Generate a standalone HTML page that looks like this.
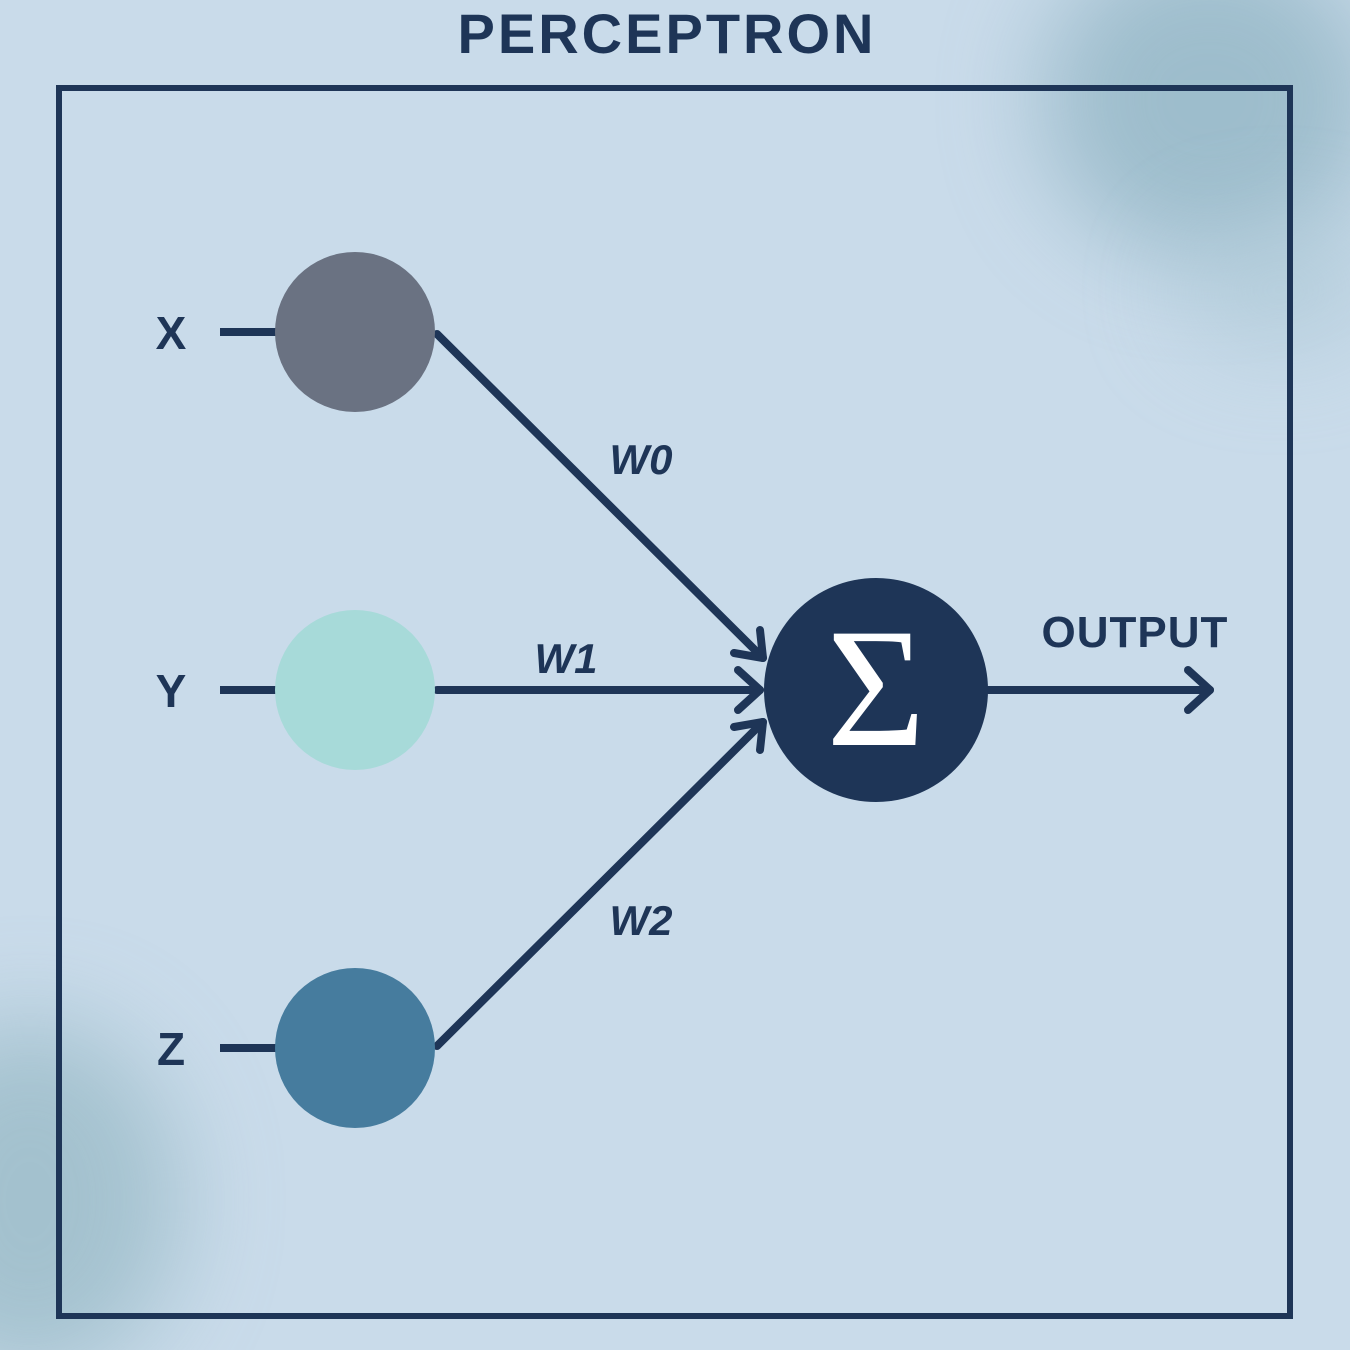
<!DOCTYPE html>
<html><head><meta charset="utf-8"><style>
html,body{margin:0;padding:0;width:1350px;height:1350px;overflow:hidden;}
body{position:relative;background:#c9dbea;font-family:"Liberation Sans",sans-serif;}
.blob{position:absolute;border-radius:50%;filter:blur(50px);}
</style></head><body>
<div class="blob" style="left:1040px;top:-60px;width:340px;height:320px;background:#8fb3c2;opacity:.75"></div>
<div class="blob" style="left:1180px;top:230px;width:200px;height:120px;background:#a9c6d3;opacity:.6"></div>
<div class="blob" style="left:-120px;top:1020px;width:300px;height:360px;background:#97b9c5;opacity:.75"></div>
<svg width="1350" height="1350" style="position:absolute;left:0;top:0">
<text x="667" y="53" text-anchor="middle" font-family="Liberation Sans" font-weight="bold" font-size="56" fill="#1e3557" letter-spacing="3">PERCEPTRON</text>
<rect x="59" y="88" width="1231" height="1228" fill="none" stroke="#1e3557" stroke-width="6"/>
<g stroke="#1e3557" stroke-width="8" stroke-linecap="round" fill="none" stroke-linejoin="round">
<line x1="220" y1="332" x2="280" y2="332" stroke-linecap="butt"/>
<line x1="220" y1="690" x2="280" y2="690" stroke-linecap="butt"/>
<line x1="220" y1="1048" x2="280" y2="1048" stroke-linecap="butt"/>
<line x1="437" y1="334" x2="763" y2="658"/>
<polyline points="734,653 763,658 760,630"/>
<line x1="437" y1="690" x2="760" y2="690"/>
<polyline points="738,670 760,690 738,710"/>
<line x1="437" y1="1046" x2="763" y2="722"/>
<polyline points="734,727 763,722 760,750"/>
<line x1="988" y1="690" x2="1210" y2="690"/>
<polyline points="1188,670 1210,690 1188,710"/>
</g>
<circle cx="355" cy="332" r="80" fill="#6a7282"/>
<circle cx="355" cy="690" r="80" fill="#a7dad9"/>
<circle cx="355" cy="1048" r="80" fill="#467c9e"/>
<circle cx="876" cy="690" r="112" fill="#1e3557"/>
<text x="876" y="745" text-anchor="middle" font-family="Liberation Serif" font-size="170" fill="#fff">Σ</text>
<g font-family="Liberation Sans" font-weight="bold" fill="#1e3557">
<text x="171" y="349" text-anchor="middle" font-size="46">X</text>
<text x="171" y="707" text-anchor="middle" font-size="46">Y</text>
<text x="171" y="1065" text-anchor="middle" font-size="46">Z</text>
<text x="641" y="474" text-anchor="middle" font-size="42" font-style="italic">W0</text>
<text x="566" y="673" text-anchor="middle" font-size="42" font-style="italic">W1</text>
<text x="641" y="935" text-anchor="middle" font-size="42" font-style="italic">W2</text>
<text x="1135" y="647" text-anchor="middle" font-size="44" letter-spacing="1">OUTPUT</text>
</g>
</svg>
</body></html>
